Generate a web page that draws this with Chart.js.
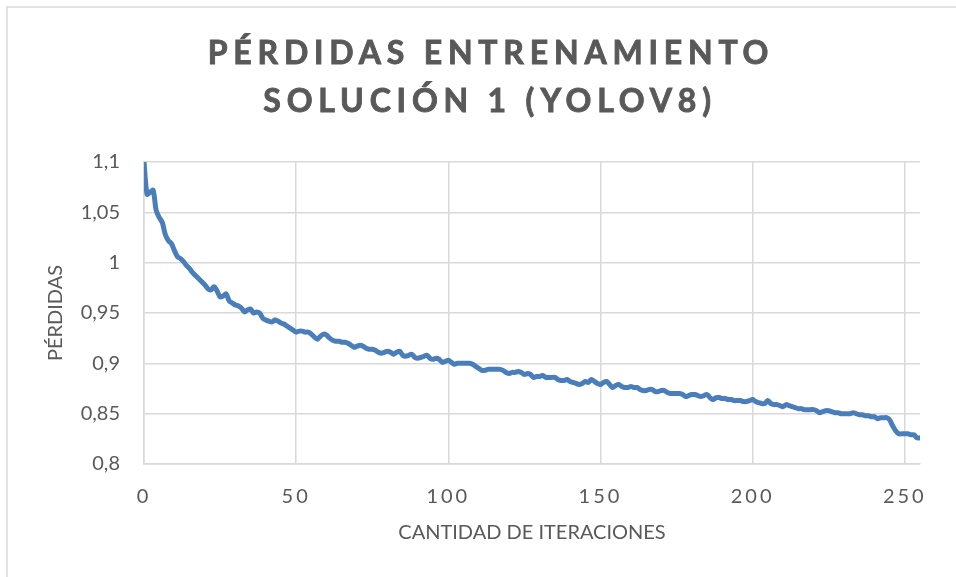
<!DOCTYPE html>
<html>
<head>
<meta charset="utf-8">
<title>Pérdidas entrenamiento</title>
<script src="https://cdn.jsdelivr.net/npm/chart.js@4.4.1/dist/chart.umd.min.js"></script>
<style>
  html, body { margin: 0; padding: 0; background: #fff; }
  #wrap { width: 956px; height: 577px; }
</style>
</head>
<body>
<div id="wrap"><canvas id="lossChart" width="956" height="577"></canvas></div>
<script>
// Título (dos líneas) y textos de ejes
const titleLines = ['PÉRDIDAS ENTRENAMIENTO', 'SOLUCIÓN 1 (YOLOV8)'];
const xTitle = 'CANTIDAD DE ITERACIONES';
const yTitle = 'PÉRDIDAS';

// Etiquetas de los ejes
const xTickLabels = ['0', '50', '100', '150', '200', '250'];
const yTickLabels = ['0,8', '0,85', '0,9', '0,95', '1', '1,05', '1,1'];

// Pérdida por iteración (0..255)
const perdidas = [
  1.100, 1.068, 1.070, 1.072, 1.052, 1.045, 1.040, 1.028, 1.022, 1.019,
  1.012, 1.006, 1.004, 1.001, 0.997, 0.994, 0.990, 0.987, 0.984, 0.981,
  0.978, 0.974, 0.973, 0.976, 0.972, 0.966, 0.967, 0.969, 0.962, 0.960,
  0.958, 0.957, 0.955, 0.951, 0.953, 0.954, 0.950, 0.951, 0.950, 0.945,
  0.943, 0.942, 0.941, 0.943, 0.942, 0.940, 0.939, 0.937, 0.935, 0.933,
  0.931, 0.932, 0.932, 0.931, 0.931, 0.929, 0.926, 0.924, 0.927, 0.929,
  0.928, 0.925, 0.923, 0.922, 0.922, 0.921, 0.921, 0.920, 0.918, 0.916,
  0.917, 0.918, 0.917, 0.915, 0.914, 0.914, 0.913, 0.911, 0.910, 0.911,
  0.912, 0.911, 0.909, 0.911, 0.912, 0.908, 0.907, 0.908, 0.909, 0.906,
  0.905, 0.906, 0.907, 0.908, 0.905, 0.904, 0.905, 0.904, 0.901, 0.902,
  0.903, 0.901, 0.899, 0.900, 0.900, 0.900, 0.900, 0.900, 0.899, 0.897,
  0.895, 0.893, 0.893, 0.894, 0.894, 0.894, 0.894, 0.894, 0.893, 0.891,
  0.890, 0.891, 0.891, 0.892, 0.891, 0.889, 0.890, 0.889, 0.886, 0.887,
  0.887, 0.888, 0.886, 0.886, 0.886, 0.886, 0.884, 0.883, 0.883, 0.884,
  0.882, 0.881, 0.880, 0.879, 0.880, 0.882, 0.881, 0.884, 0.882, 0.880,
  0.879, 0.881, 0.882, 0.879, 0.876, 0.878, 0.879, 0.877, 0.876, 0.876,
  0.877, 0.876, 0.876, 0.874, 0.873, 0.873, 0.874, 0.874, 0.872, 0.872,
  0.873, 0.873, 0.871, 0.870, 0.870, 0.870, 0.870, 0.869, 0.867, 0.868,
  0.869, 0.869, 0.868, 0.867, 0.868, 0.869, 0.866, 0.864, 0.866, 0.866,
  0.865, 0.865, 0.864, 0.864, 0.863, 0.863, 0.863, 0.862, 0.862, 0.863,
  0.864, 0.862, 0.861, 0.860, 0.860, 0.863, 0.860, 0.859, 0.859, 0.858,
  0.857, 0.859, 0.858, 0.857, 0.856, 0.855, 0.855, 0.854, 0.854, 0.854,
  0.854, 0.853, 0.851, 0.852, 0.853, 0.853, 0.852, 0.851, 0.851, 0.850,
  0.850, 0.850, 0.850, 0.851, 0.850, 0.849, 0.849, 0.848, 0.848, 0.847,
  0.847, 0.845, 0.846, 0.846, 0.846, 0.844, 0.838, 0.833, 0.830, 0.830,
  0.830, 0.830, 0.829, 0.829, 0.826, 0.826
];
const iteraciones = perdidas.map((_, i) => i);

const textColor = '#595959';
const gridColor = '#d9d9d9';
const lineColor = '#4a7ebb';

// Marco exterior, título con espaciado y espaciado de las etiquetas del eje X
const chartDecor = {
  id: 'chartDecor',
  beforeDraw(chart) {
    const c = chart.ctx;
    c.save();
    c.strokeStyle = gridColor;
    c.lineWidth = 1.5;
    c.beginPath();
    c.moveTo(7, 577);
    c.lineTo(7, 7);
    c.lineTo(956, 7);
    c.stroke();
    c.restore();
  },
  afterDatasetsDraw(chart) {
    chart.ctx.letterSpacing = '3px';
  },
  afterDraw(chart) {
    const c = chart.ctx;
    c.letterSpacing = '0px';
    c.save();
    c.font = 'bold 32px Lato';
    c.fillStyle = textColor;
    c.strokeStyle = textColor;
    c.lineWidth = 0.9;
    c.textAlign = 'center';
    c.textBaseline = 'alphabetic';
    c.letterSpacing = '5.8px';
    c.fillText(titleLines[0], 491, 64);
    c.strokeText(titleLines[0], 491, 64);
    c.fillText(titleLines[1], 490, 112);
    c.strokeText(titleLines[1], 490, 112);
    c.restore();
    c.letterSpacing = '0px';
  }
};

new Chart(document.getElementById('lossChart'), {
  type: 'line',
  data: {
    labels: iteraciones,
    datasets: [{
      label: 'Pérdidas',
      data: perdidas,
      borderColor: lineColor,
      borderWidth: 5,
      pointRadius: 0,
      tension: 0.3,
      fill: false
    }]
  },
  options: {
    responsive: false,
    animation: false,
    layout: { padding: { top: 162, right: 36, bottom: 0, left: 0 } },
    plugins: {
      legend: { display: false },
      tooltip: { enabled: false }
    },
    scales: {
      x: {
        type: 'linear',
        min: 0,
        max: 255,
        afterFit(scale) { scale.height = 113; },
        ticks: {
          stepSize: 50,
          includeBounds: false,
          padding: 21,
          z: 1,
          color: textColor,
          font: { family: 'Lato', size: 20 },
          callback: (v) => xTickLabels[v / 50]
        },
        grid: { color: gridColor, lineWidth: 1.5, drawTicks: false },
        border: { color: gridColor, width: 1.5 },
        title: {
          display: true,
          text: xTitle,
          color: textColor,
          font: { family: 'Lato', size: 20 },
          padding: { top: 0, bottom: 32 }
        }
      },
      y: {
        min: 0.8,
        max: 1.1,
        afterFit(scale) { scale.width = 144; },
        ticks: {
          stepSize: 0.05,
          padding: 24,
          color: textColor,
          font: { family: 'Lato', size: 20 },
          callback: (v, i) => yTickLabels[i]
        },
        grid: { color: gridColor, lineWidth: 1.5, drawTicks: false },
        border: { color: gridColor, width: 1.5 },
        title: {
          display: true,
          text: yTitle,
          color: textColor,
          font: { family: 'Lato', size: 20 },
          padding: { top: 44, bottom: 0 }
        }
      }
    }
  },
  plugins: [chartDecor]
});
</script>
</body>
</html>
